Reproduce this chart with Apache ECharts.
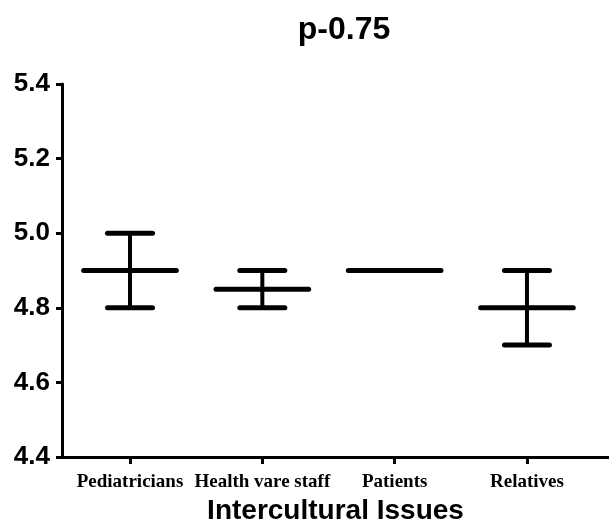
<!DOCTYPE html>
<html>
<head>
<meta charset="utf-8">
<script src="https://cdn.jsdelivr.net/npm/echarts@6/dist/echarts.min.js"></script>
<style>
  html, body { margin: 0; padding: 0; background: #fff; }
  #chart { width: 609px; height: 530px; }
</style>
</head>
<body>
<div id="chart"></div>
<script>
// 数据
var categories = ['Pediatricians', 'Health vare staff', 'Patients', 'Relatives'];
var means = [4.9, 4.85, 4.9, 4.8];
var lows = [4.8, 4.8, 4.9, 4.7];
var highs = [5.0, 4.9, 4.9, 4.9];
var yTicks = [4.4, 4.6, 4.8, 5.0, 5.2, 5.4];

var data = categories.map(function (c, i) {
  return [i, means[i], lows[i], highs[i]];
});

var myChart = echarts.init(document.getElementById('chart'));

// 均值线 + 误差棒
function renderItem(params, api) {
  var x = api.value(0);
  var mid = api.coord([x, api.value(1)]);
  var lo = api.coord([x, api.value(2)]);
  var hi = api.coord([x, api.value(3)]);
  var band = api.size([1, 0])[0];
  var mw = band * 0.35, cw = band * 0.17;
  var style = { stroke: '#000', lineWidth: 5, lineCap: 'round' };
  var children = [];
  if (hi[1] !== lo[1]) {
    children.push(
      { type: 'line', shape: { x1: mid[0], y1: hi[1], x2: mid[0], y2: lo[1] }, style: { stroke: '#000', lineWidth: 4 } },
      { type: 'line', shape: { x1: mid[0] - cw, y1: hi[1], x2: mid[0] + cw, y2: hi[1] }, style: style },
      { type: 'line', shape: { x1: mid[0] - cw, y1: lo[1], x2: mid[0] + cw, y2: lo[1] }, style: style }
    );
  }
  children.push({ type: 'line', shape: { x1: mid[0] - mw, y1: mid[1], x2: mid[0] + mw, y2: mid[1] }, style: style });
  return { type: 'group', children: children };
}

var option = {
  backgroundColor: '#fff',
  animation: false,
  title: {
    text: 'p-0.75',
    left: 339,
    top: 9,
    textAlign: 'center',
    textStyle: { fontFamily: 'Liberation Sans', fontWeight: 'bold', fontSize: 32, color: '#000' }
  },
  grid: { left: 62, right: 0, top: 84, bottom: 73, containLabel: false },
  xAxis: {
    type: 'value',
    min: -0.514,
    max: 3.62,
    name: 'Intercultural Issues',
    nameLocation: 'middle',
    nameGap: 38,
    nameTextStyle: { fontFamily: 'Liberation Sans', fontWeight: 'bold', fontSize: 28, color: '#000' },
    splitLine: { show: false },
    axisLine: { onZero: false, lineStyle: { color: '#000', width: 3 } },
    axisTick: { customValues: [0, 1, 2, 3], length: 7, lineStyle: { color: '#000', width: 3 } },
    axisLabel: {
      customValues: [0, 1, 2, 3],
      margin: 16,
      fontFamily: 'Liberation Serif', fontWeight: 'bold', fontSize: 19, color: '#000',
      formatter: function (v) { return categories[Math.round(v)]; }
    }
  },
  yAxis: {
    type: 'value',
    min: 4.4,
    max: 5.4,
    interval: 0.2,
    splitLine: { show: false },
    axisLine: { show: true, onZero: false, lineStyle: { color: '#000', width: 3 } },
    axisTick: { show: true, length: 6, lineStyle: { color: '#000', width: 3 } },
    axisLabel: {
      margin: 12,
      fontFamily: 'Liberation Sans', fontWeight: 'bold', fontSize: 26, color: '#000',
      formatter: function (v) { return v.toFixed(1); }
    }
  },
  series: [{
    type: 'custom',
    renderItem: renderItem,
    encode: { x: 0, y: 1 },
    data: data
  }]
};

myChart.setOption(option);
</script>
</body>
</html>
